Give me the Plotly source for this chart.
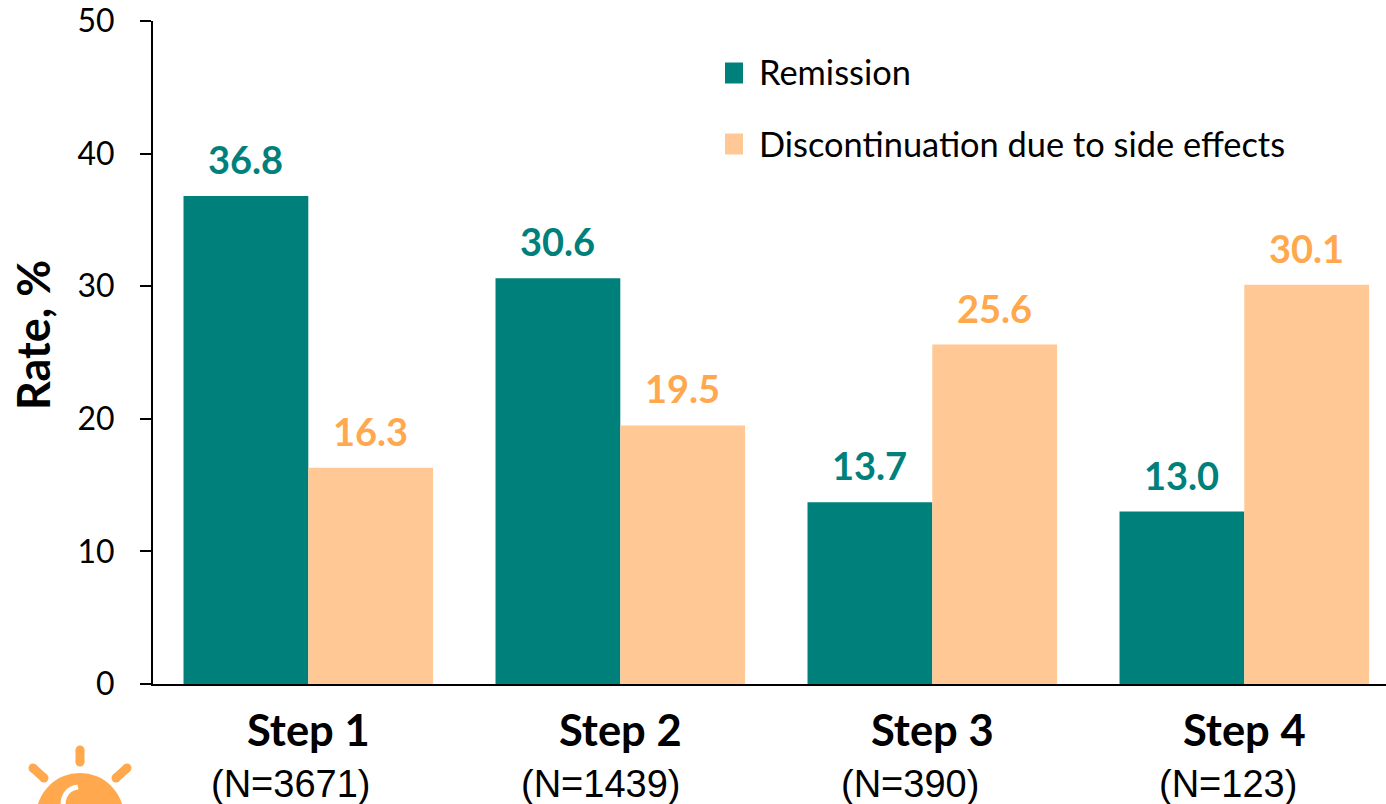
import plotly.graph_objects as go

# Outcome rates per treatment step, in percent
steps = ["Step 1", "Step 2", "Step 3", "Step 4"]
sample_sizes = ["(N=3671)", "(N=1439)", "(N=390)", "(N=123)"]
remission = [36.8, 30.6, 13.7, 13.0]
discontinuation = [16.3, 19.5, 25.6, 30.1]
y_ticks = [0, 10, 20, 30, 40, 50]

TEAL = "#00807A"
PEACH = "#FFC894"
ORANGE = "#FFA84D"
W, H = 1386, 804
LEFT, TOP, BOTTOM = 153, 21, 120
CAT_WIDTH = 312
FIRST_CENTRE = 308.3

positions = list(range(len(steps)))


def px(x):
    return (x - LEFT) / (W - LEFT)


def py(y):
    return (H - BOTTOM - y) / (H - TOP - BOTTOM)


fig = go.Figure()
for name, values, colour in [
    ("Remission", remission, TEAL),
    ("Discontinuation due to side effects", discontinuation, PEACH),
]:
    fig.add_bar(x=positions, y=values, name=name, marker_color=colour, marker_line_width=0)

annotations = []
# Value labels above each bar
for i in positions:
    for values, colour, offset in [(remission, TEAL, -0.2), (discontinuation, ORANGE, 0.2)]:
        annotations.append(dict(
            x=i + offset, y=values[i], xref="x", yref="y", text=f"{values[i]:.1f}",
            showarrow=False, yanchor="middle", yshift=37,
            font=dict(family="Lato", size=38, color=colour, weight="bold"),
        ))
# Sample sizes under the step names
for i, (label, shift) in enumerate(zip(sample_sizes, [-18, -20, -22, -16])):
    annotations.append(dict(
        x=i, y=py(784), xref="x", yref="paper", text=label, showarrow=False,
        xshift=shift, yanchor="middle",
        font=dict(family="Liberation Sans", size=38, color="black"),
    ))
# Value axis title, set above the axis midpoint
annotations.append(dict(
    x=px(33), y=py(335), xref="paper", yref="paper", text="Rate, %", showarrow=False,
    textangle=-90, xanchor="center", yanchor="middle",
    font=dict(family="Lato", size=45, color="black", weight="bold"),
))

# Legend entries
shapes = []
for y_mid, colour, text in [
    (73, TEAL, "Remission"),
    (144, PEACH, "Discontinuation due to side effects"),
]:
    shapes.append(dict(type="rect", xref="paper", yref="paper", line_width=0, fillcolor=colour,
                       x0=px(725), x1=px(743), y0=py(y_mid - 10.5), y1=py(y_mid + 10.5)))
    annotations.append(dict(
        x=px(757), y=py(y_mid - 1), xref="paper", yref="paper", text=text, showarrow=False,
        xanchor="left", yanchor="middle",
        font=dict(family="Lato", size=34.4, color="black"),
    ))

# Sun emblem in the lower-left corner
shapes.append(dict(type="circle", xref="paper", yref="paper", line_width=0, fillcolor=ORANGE,
                   x0=px(36), x1=px(124), y0=py(773), y1=py(861), layer="above"))
for x0, y0, x1, y1 in [(80, 750, 80, 762), (33, 768, 44, 778), (127, 768, 116, 778)]:
    shapes.append(dict(type="line", xref="paper", yref="paper",
                       x0=px(x0), y0=py(y0), x1=px(x1), y1=py(y1),
                       line=dict(color=ORANGE, width=9)))
    # Rounded ray ends
    for cx, cy in [(x0, y0), (x1, y1)]:
        shapes.append(dict(type="circle", xref="paper", yref="paper", line_width=0, fillcolor=ORANGE,
                           x0=px(cx - 4.5), x1=px(cx + 4.5), y0=py(cy - 4.5), y1=py(cy + 4.5)))
shapes.append(dict(type="path", xref="paper", yref="paper", fillcolor="rgba(0,0,0,0)",
                   path=f"M {px(63)} {py(804)} Q {px(64)} {py(789)} {px(78)} {py(787)}",
                   line=dict(color="white", width=5)))

x_start = -(FIRST_CENTRE - LEFT) / CAT_WIDTH

fig.update_layout(
    width=W, height=H, autosize=False,
    margin=dict(l=LEFT, r=0, t=TOP, b=BOTTOM, autoexpand=False),
    plot_bgcolor="white", paper_bgcolor="white",
    barmode="group", bargap=0.2, bargroupgap=0, showlegend=False,
    annotations=annotations, shapes=shapes,
    font=dict(family="Lato", color="black"),
    xaxis=dict(
        range=[x_start, x_start + (W - LEFT) / CAT_WIDTH], tickmode="array", tickvals=positions,
        ticktext=steps, ticks="", showgrid=False, zeroline=False,
        showline=True, linecolor="black", linewidth=2, ticklabelstandoff=8,
        tickfont=dict(family="Lato", size=43.5, color="black", weight="bold"),
    ),
    yaxis=dict(
        range=[0, 50], tickmode="array", tickvals=y_ticks, ticks="outside", ticklen=11,
        tickwidth=2, tickcolor="black", showgrid=False, zeroline=False,
        showline=True, linecolor="black", linewidth=2, ticklabelstandoff=19,
        tickfont=dict(family="Lato", size=32, color="black"),
    ),
)

fig.write_html("out.html", config=dict(displayModeBar=False))
